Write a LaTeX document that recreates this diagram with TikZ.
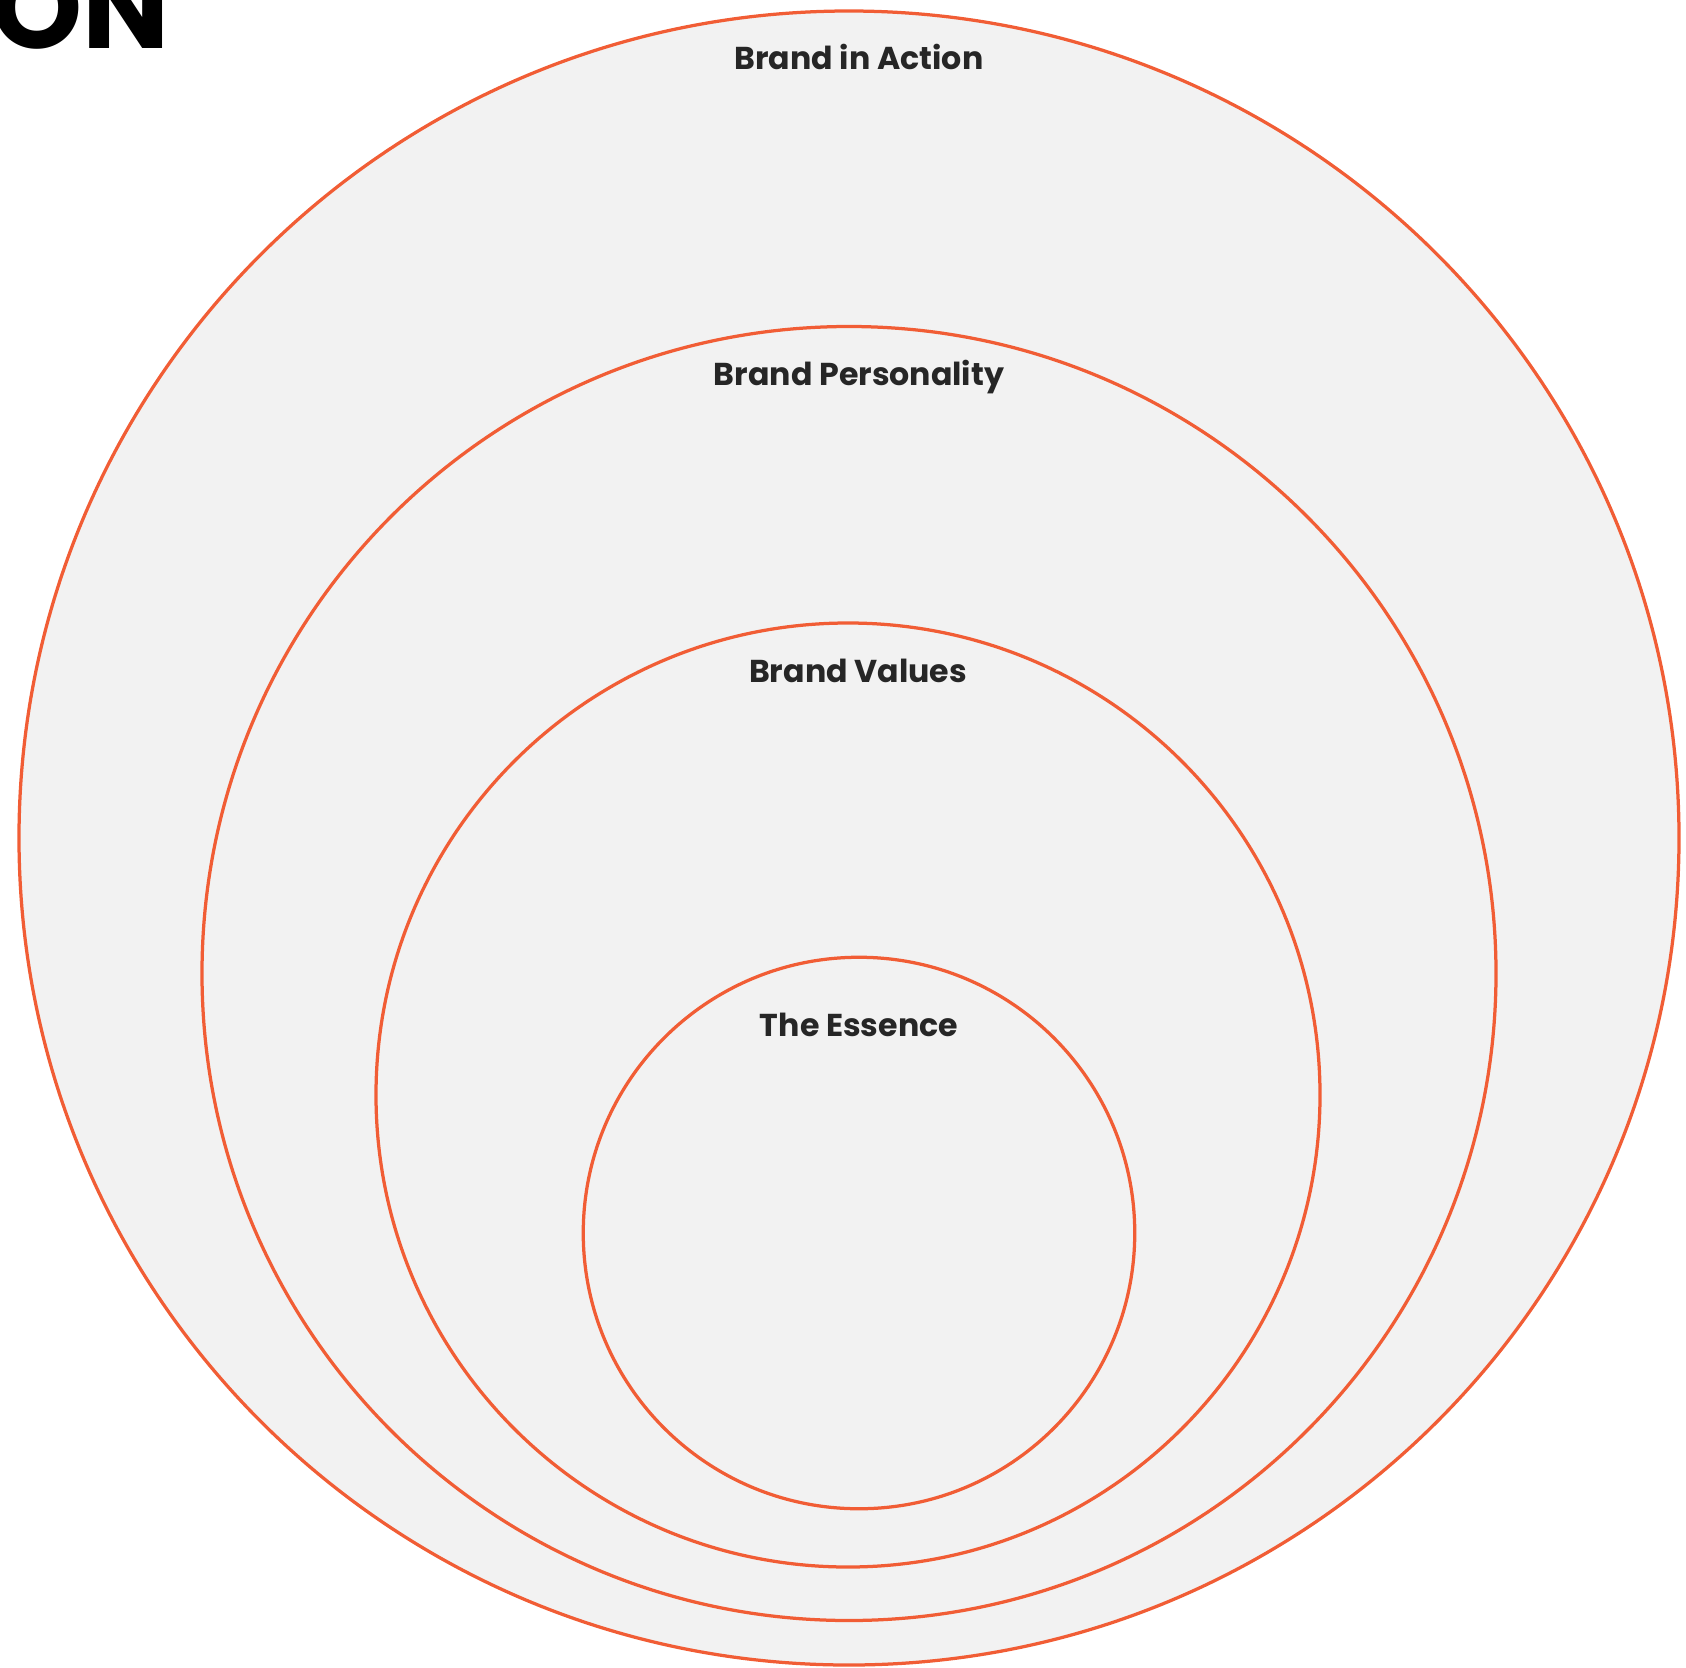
\documentclass[tikz,border=0pt]{standalone}
\usepackage{fontspec}
\setmainfont{Poppins}
\usetikzlibrary{positioning,shapes.geometric}
\definecolor{ringorange}{HTML}{F15D35}
\definecolor{ringfill}{HTML}{F2F2F2}
\definecolor{tagtext}{HTML}{262626}

\begin{document}
\begin{tikzpicture}[node distance=1cm, auto]
\tikzset{
   ring/.style={ellipse, draw=ringorange, fill=ringfill, line width=0.065cm, inner sep=0pt, outer sep=0pt},
   tag/.style={inner sep=0pt, text=tagtext, font=\fontsize{18}{20}\selectfont\bfseries},
}
\useasboundingbox (0,0) rectangle (33.72,-33.34);

\node[ring, minimum width=33.2cm, minimum height=33.08cm] (action) at (16.98,-16.76) {};
\node[ring, minimum width=25.88cm, minimum height=25.88cm] (personality) at (16.98,-19.47) {};
\node[ring, minimum width=18.88cm, minimum height=18.88cm] (values) at (16.96,-21.9) {};
\node[ring, minimum width=11.03cm, minimum height=11.03cm] (essence) at (17.18,-24.66) {};

\node[tag, below=0.66cm of action.north, xshift=0.2cm] (actiontag) {Brand in Action};
\node[tag, below=0.66cm of personality.north, xshift=0.2cm] (personalitytag) {Brand Personality};
\node[tag, below=0.72cm of values.north, xshift=0.2cm] (valuestag) {Brand Values};
\node[tag, below=1.11cm of essence.north, xshift=0cm] (essencetag) {The Essence};

% title cut off at the page edge
\node[anchor=base east, inner sep=0pt, font=\fontsize{66}{70}\selectfont\bfseries] (title) at (3.4,-0.97) {ON};

\end{tikzpicture}
\end{document}
